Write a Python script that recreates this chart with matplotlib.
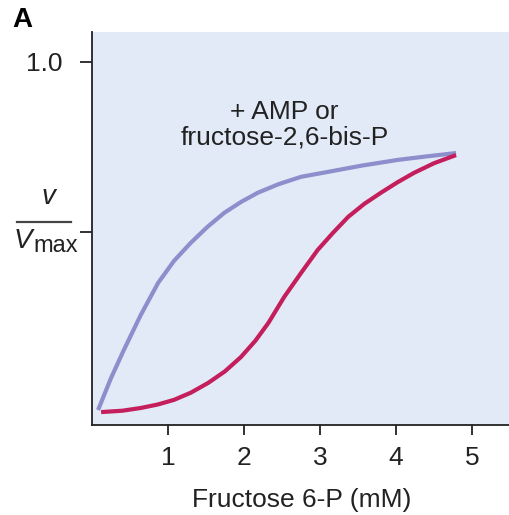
import numpy as np
import matplotlib.pyplot as plt

plt.rcParams['font.family'] = ['Liberation Sans', 'DejaVu Sans']

# fructose 6-P (mM) and v/Vmax
x_amp = [0.08, 0.25, 0.42, 0.64, 0.87, 1.08, 1.30, 1.52, 1.74, 1.96, 2.18, 2.45, 2.75, 3.14, 3.55, 4.03, 4.40, 4.79]
y_amp = [-0.024, 0.07, 0.153, 0.255, 0.35, 0.415, 0.468, 0.515, 0.556, 0.588, 0.615, 0.640, 0.662, 0.678, 0.695, 0.712, 0.722, 0.732]

x_base = [0.12, 0.40, 0.64, 0.86, 1.08, 1.30, 1.53, 1.75, 1.96, 2.15, 2.32, 2.53, 2.75, 2.97, 3.17, 3.37, 3.58, 3.80, 4.02, 4.24, 4.50, 4.79]
y_base = [-0.03, -0.026, -0.018, -0.008, 0.006, 0.027, 0.056, 0.09, 0.132, 0.18, 0.232, 0.309, 0.379, 0.447, 0.497, 0.544, 0.582, 0.615, 0.646, 0.674, 0.702, 0.726]

x_ticks = [1, 2, 3, 4, 5]
y_ticks = [0.5, 1.0]

W, H = 510, 515
fig = plt.figure(figsize=(W / 100, H / 100), dpi=100)
ax = fig.add_axes([92 / W, 1 - 425 / H, 418 / W, 393 / H])
ax.set_facecolor('#e1eaf6')

ax.plot(x_amp, y_amp, color='#8c8fcc', lw=3, solid_capstyle='butt')
ax.plot(x_base, y_base, color='#c41e5c', lw=3, solid_capstyle='butt')

ax.set_xlim(0, 5.5)
ax.set_ylim(-0.068, 1.088)

for s in ['top', 'right']:
    ax.spines[s].set_visible(False)
for s in ['left', 'bottom']:
    ax.spines[s].set_linewidth(1.3)
    ax.spines[s].set_color('#222222')

ax.set_xticks(x_ticks)
ax.set_xticklabels([str(t) for t in x_ticks])
ax.set_yticks(y_ticks)
ax.set_yticklabels(['', '1.0'])
ax.tick_params(axis='x', direction='out', length=7, width=1.3, pad=8, labelsize=19, colors='#222222')
ax.tick_params(axis='y', direction='out', length=9, width=1.3, pad=12, labelsize=19, colors='#222222')

fig.text(302 / W, 1 - 500 / H, 'Fructose 6-P (mM)', fontsize=19, ha='center', va='center', color='#222222')

# v / Vmax label built from pieces
fig.text(48 / W, 1 - 197 / H, 'v', fontsize=20, style='italic', ha='center', va='center', color='#222222')
fig.add_artist(plt.Line2D([17 / W, 71 / W], [1 - 222 / H, 1 - 222 / H], color='#444444', lw=1.6))
fig.text(14 / W, 1 - 248 / H, 'V', fontsize=20, style='italic', ha='left', va='baseline', color='#222222')
fig.text(33 / W, 1 - 252 / H, 'max', fontsize=17, ha='left', va='baseline', color='#222222')

ax.text(2.53, 0.815, '+ AMP or\nfructose-2,6-bis-P', fontsize=19, ha='center', va='center',
        color='#222222', linespacing=1.05)

fig.text(12 / W, 1 - 20 / H, 'A', fontsize=20, fontweight='bold', ha='left', va='center')

fig.savefig('out.png', dpi=100)
